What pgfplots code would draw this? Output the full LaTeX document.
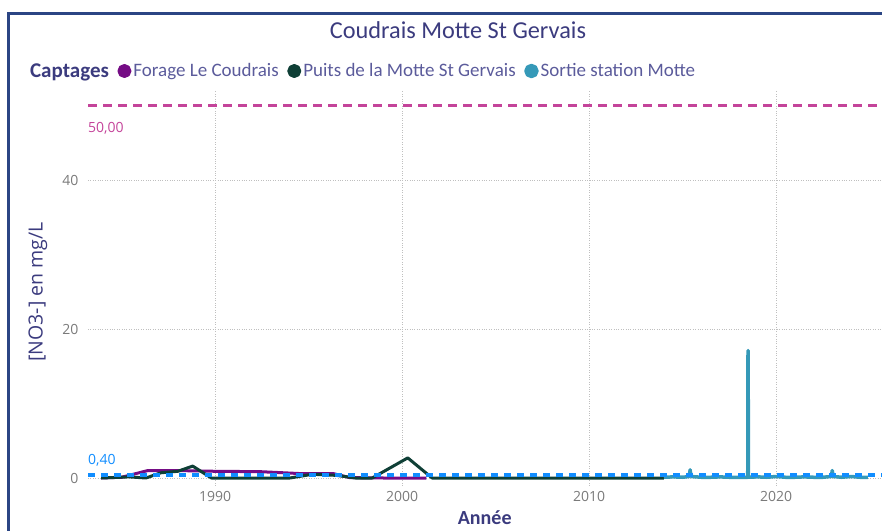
\documentclass[border=0pt]{standalone}
\usepackage{fontspec}
\setmainfont{Carlito}
\newfontfamily\tickfont{Open Sans}
\usepackage{pgfplots}
\pgfplotsset{compat=1.18}
\definecolor{forage}{HTML}{750C85}
\definecolor{puits}{HTML}{0F3F36}
\definecolor{sortie}{HTML}{3599B8}
\definecolor{refpink}{HTML}{C4449A}
\definecolor{refblue}{HTML}{118DFF}
\definecolor{frame}{HTML}{2B4584}
\definecolor{titlec}{HTML}{3B3B7E}
\definecolor{legc}{HTML}{5B5B9B}
\definecolor{tickc}{HTML}{7A7A7A}
\begin{document}
\begin{tikzpicture}[x=1pt,y=1pt]
\useasboundingbox (0,0) rectangle (882,530);
\clip (0,0) rectangle (882,530);
\draw[line width=3pt, color=frame] (8.5,-10) |- (900,516);
\node[font=\fontsize{24.3}{28}\selectfont, text=titlec] at (458,500) {Coudrais Motte St Gervais};
\begin{axis}[
  at={(88pt,44.55pt)}, anchor=south west,
  scale only axis, width=796.6pt, height=394.85pt,
  xmin=1983.2, xmax=2025.8, ymin=-1, ymax=52,
  axis line style={draw=none},
  tick style={draw=none},
  xtick={1990,2000,2010,2020}, ytick={0,20,40},
  xticklabels={1990,2000,2010,2020}, yticklabels={0,20,40},
  grid=major,
  major grid style={dotted, color=black!25, line width=0.9pt},
  ticklabel style={font=\tickfont\fontsize{14}{16}\selectfont, text=tickc},
  xticklabel style={anchor=north, yshift=-2pt},
  yticklabel style={anchor=east, xshift=-6pt},
  ylabel={[NO3-] en mg/L},
  ylabel style={at={(axis description cs:-0.0628,0.49)}, rotate=0, anchor=center, font=\tickfont\fontsize{19.5}{22}\selectfont, text=titlec},
  xlabel={Année},
  xlabel style={at={(axis description cs:0.498,-0.1)}, anchor=base, inner sep=0pt, font=\fontsize{20}{22}\selectfont\bfseries, text=titlec},
  legend columns=-1,
  legend style={at={(axis description cs:-0.0754,1.0496)}, anchor=west, draw=none, fill=none, inner sep=0pt,
    font=\fontsize{19}{22}\selectfont, text=legc,
    nodes={inner sep=0pt},
    /tikz/every odd column/.append style={column sep=2pt},
    /tikz/every even column/.append style={column sep=8.5pt}},
  clip=true,
  line join=round,
]
\addlegendimage{empty legend}
\addlegendentry{\textcolor{titlec}{\fontsize{21}{22}\selectfont\bfseries Captages}}
\addplot[color=forage, line width=3pt, legend image code/.code={\fill[forage] (5.5pt,0) circle (5.5pt);}] coordinates {
(1983.9,0) (1985,0.1) (1986.4,1.0) (1988,1.0) (1990,0.9) (1992.4,0.85) (1994.5,0.6) (1996.3,0.6) (1997.2,0.05) (1999,0) (2001.3,0)
};
\addlegendentry{Forage Le Coudrais}
\addplot[color=puits, line width=3pt, legend image code/.code={\fill[puits] (5.5pt,0) circle (5.5pt);}] coordinates {
(1983.9,0) (1985.4,0.15) (1986.3,0) (1987.1,0.7) (1988,0.9) (1988.8,1.6) (1989.8,0) (1994,0) (1995.2,0.5) (1996.5,0.35) (1997.5,0) (1998.4,0) (2000.3,2.7) (2001.6,0) (2014,0)
};
\addlegendentry{Puits de la Motte St Gervais}
\addplot[color=sortie, line width=3.5pt, legend image code/.code={\fill[sortie] (5.5pt,0) circle (5.5pt);}] coordinates {
(2014.0,0.1) (2014.5,0.15) (2015.0,0.1) (2015.35,0.2) (2015.4,1.1) (2015.45,0.2) (2016,0.1) (2016.5,0.1) (2017,0.15) (2017.5,0.1) (2018,0.1) (2018.48,0.1) (2018.5,17.1) (2018.52,0.1) (2019,0.15) (2019.5,0.1) (2020,0.2) (2020.5,0.1) (2021,0.1) (2021.5,0.15) (2022,0.1) (2022.5,0.1) (2022.95,0.2) (2023.0,1.0) (2023.05,0.2) (2023.5,0.1) (2024,0.2) (2024.5,0.1) (2024.9,0.1)
};
\addlegendentry{Sortie station Motte}
\addplot[forget plot, color=sortie, line width=4.5pt] coordinates {(2018.5,0.1) (2018.5,16.5)};
\addplot[forget plot, color=refpink, line width=3.5pt, dash pattern=on 9pt off 6pt] coordinates {(1983.2,50) (2025.8,50)};
\addplot[forget plot, color=refblue, line width=4pt, dash pattern=on 7pt off 6pt] coordinates {(1983.2,0.4) (2025.8,0.4)};
\node[anchor=west, text=refpink, font=\tickfont\fontsize{14}{16}\selectfont, inner sep=0pt] at (axis cs:1983.2,47) {50,00};
\node[anchor=west, text=refblue, font=\tickfont\fontsize{14}{16}\selectfont, inner sep=0pt] at (axis cs:1983.2,2.4) {0,40};
\end{axis}
\end{tikzpicture}
\end{document}
